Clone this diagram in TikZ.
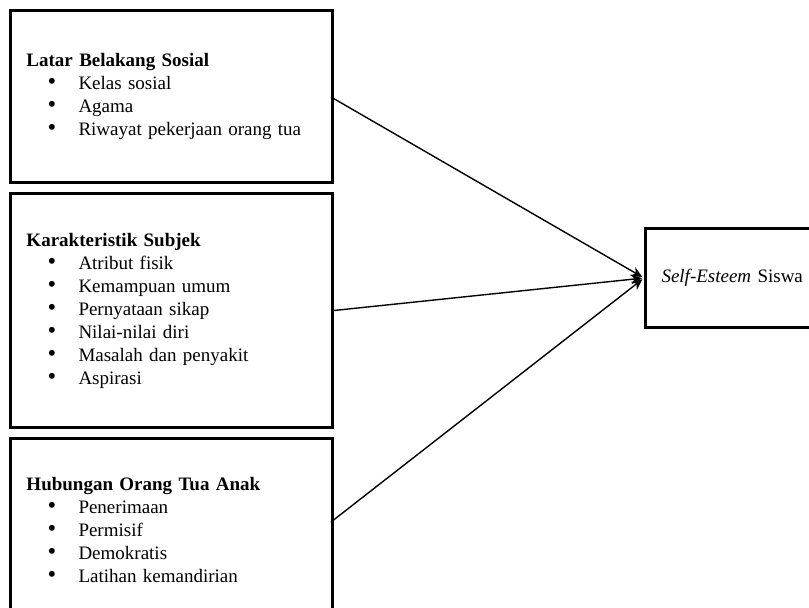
\documentclass[tikz,border=0pt]{standalone}
\usepackage{fontspec}
\setmainfont{Liberation Serif}
\usetikzlibrary{arrows.meta}

\newcommand{\itm}[1]{\hspace*{21pt}\makebox[31pt][l]{\scalebox{1.3}{\textbullet}}#1}

\tikzset{
    factorbox/.style={draw, line width=3pt, rectangle, align=left, anchor=north west,
        text width=290pt, inner xsep=16pt, inner ysep=0pt,
        font=\fontsize{19}{23}\selectfont},
    link/.style={line width=1.4pt, -{Stealth[length=11pt,width=10pt]}, shorten >=2pt}
}

\begin{document}
\begin{tikzpicture}[x=1pt, y=-1pt]
        \clip (0, 0) rectangle (809, 608);

        \node[factorbox, minimum height=172pt] (lbs) at (9, 9)
            {\textbf{Latar Belakang Sosial}\\
             \itm{Kelas sosial}\\
             \itm{Agama}\\
             \itm{Riwayat pekerjaan orang tua}};

        \node[factorbox, minimum height=234pt] (ks) at (9, 192)
            {\textbf{Karakteristik Subjek}\\
             \itm{Atribut fisik}\\
             \itm{Kemampuan umum}\\
             \itm{Pernyataan sikap}\\
             \itm{Nilai-nilai diri}\\
             \itm{Masalah dan penyakit}\\
             \itm{Aspirasi}};

        \node[factorbox, minimum height=182pt] (hota) at (9, 437)
            {\textbf{Hubungan Orang Tua Anak}\\
             \itm{Penerimaan}\\
             \itm{Permisif}\\
             \itm{Demokratis}\\
             \itm{Latihan kemandirian}};

        \node[factorbox, text width=160pt, minimum height=99pt] (ses) at (644, 227)
            {\textit{Self-Esteem} Siswa};

        \coordinate (lbsout) at (331, 97);
        \coordinate (hotaout) at (331, 522);

        \draw[link] (lbsout) -- (ses.west);
        \draw[link] (ks.east) -- (ses.west);
        \draw[link] (hotaout) -- (ses.west);
    \end{tikzpicture}
\end{document}
